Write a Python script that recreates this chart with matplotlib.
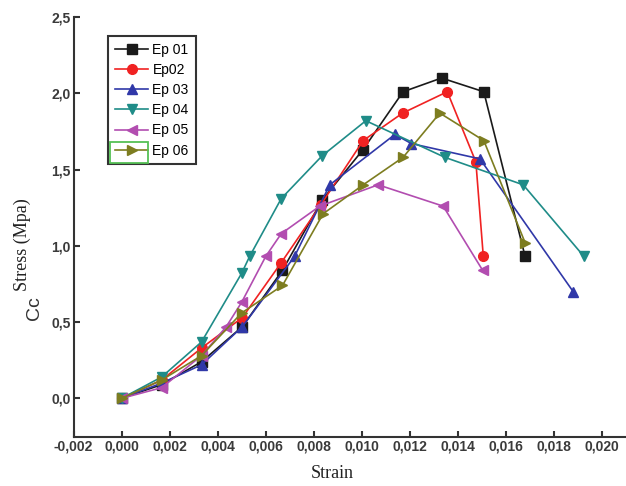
import matplotlib
matplotlib.use("Agg")
from matplotlib import pyplot as plt
from matplotlib.ticker import FuncFormatter
from matplotlib.patches import Rectangle

# Strain / stress readings for each specimen
ep01_x = [0, 0.00167, 0.00333, 0.00503, 0.0067, 0.00835, 0.01005, 0.01172, 0.01332, 0.01508, 0.0168]
ep01_y = [0, 0.09, 0.24, 0.47, 0.84, 1.30, 1.63, 2.01, 2.10, 2.01, 0.93]

ep02_x = [0, 0.00167, 0.00333, 0.00503, 0.00665, 0.0083, 0.01006, 0.0117, 0.01356, 0.01475, 0.01506]
ep02_y = [0, 0.12, 0.33, 0.53, 0.89, 1.27, 1.69, 1.87, 2.01, 1.55, 0.93]

ep03_x = [0, 0.00167, 0.00333, 0.00503, 0.0072, 0.00867, 0.01138, 0.01207, 0.01492, 0.0188]
ep03_y = [0, 0.10, 0.22, 0.47, 0.93, 1.40, 1.73, 1.67, 1.57, 0.70]

ep04_x = [0, 0.00167, 0.00333, 0.005, 0.00533, 0.00665, 0.00835, 0.01017, 0.01346, 0.01672, 0.01925]
ep04_y = [0, 0.14, 0.37, 0.82, 0.93, 1.31, 1.59, 1.82, 1.58, 1.40, 0.93]

ep05_x = [0, 0.00167, 0.00333, 0.00436, 0.005, 0.006, 0.00665, 0.00825, 0.01068, 0.01339, 0.01503]
ep05_y = [0, 0.07, 0.28, 0.47, 0.63, 0.93, 1.08, 1.26, 1.40, 1.26, 0.84]

ep06_x = [0, 0.00167, 0.00333, 0.005, 0.0067, 0.00839, 0.01006, 0.01172, 0.01325, 0.01508, 0.0168]
ep06_y = [0, 0.12, 0.28, 0.56, 0.74, 1.21, 1.40, 1.58, 1.87, 1.69, 1.02]

labels = ["Ep 01", "Ep02", "Ep 03", "Ep 04", "Ep 05", "Ep 06"]
x_ticks = [-0.002, 0.0, 0.002, 0.004, 0.006, 0.008, 0.010, 0.012, 0.014, 0.016, 0.018, 0.020]
y_ticks = [0.0, 0.5, 1.0, 1.5, 2.0, 2.5]

series = [
    (ep01_x, ep01_y, "#1a1a1a", "s"),
    (ep02_x, ep02_y, "#f02222", "o"),
    (ep03_x, ep03_y, "#3038a8", "^"),
    (ep04_x, ep04_y, "#1f8c88", "v"),
    (ep05_x, ep05_y, "#b24db0", "<"),
    (ep06_x, ep06_y, "#7d7d20", ">"),
]

W, H = 626, 486
fig = plt.figure(figsize=(W / 100, H / 100), dpi=100)
# axes box in pixels: left spine 73.5, bottom 436.5, y=2.5 at 17
ax = fig.add_axes([73.5 / W, 1 - 436.5 / H, (W - 73.5) / W, (436.5 - 17) / H])

for (xs, ys, col, mk), lab in zip(series, labels):
    ax.plot(xs, ys, color=col, marker=mk, markersize=7, lw=1.2, label=lab,
            markeredgecolor=col, markerfacecolor=col, clip_on=False)

ax.set_xlim(-0.002, 0.021)
ax.set_ylim(-0.25, 2.5)
ax.set_xticks(x_ticks)
ax.set_yticks(y_ticks)
ax.xaxis.set_major_formatter(FuncFormatter(lambda v, p: ("%.3f" % v).replace(".", ",")))
ax.yaxis.set_major_formatter(FuncFormatter(lambda v, p: ("%.1f" % v).replace(".", ",")))

for s in ["top", "right"]:
    ax.spines[s].set_visible(False)
for s in ["left", "bottom"]:
    ax.spines[s].set_color("#333333")
    ax.spines[s].set_linewidth(1.5)

ax.tick_params(axis="x", direction="in", length=4, width=1.5, color="#333333", pad=2.5)
ax.tick_params(axis="y", direction="in", length=4, width=1.5, color="#333333", pad=2)
for t in ax.get_xticklabels() + ax.get_yticklabels():
    t.set_family("Liberation Sans")
    t.set_fontweight("bold")
    t.set_fontsize(10)
    t.set_color("#3a3a3a")

fig.text(332 / W, 1 - 473 / H, "Strain", family="Liberation Serif", fontsize=13,
         ha="center", va="center", color="#222222")
fig.text(22 / W, 1 - 245 / H, "Stress (Mpa)", family="Liberation Serif", fontsize=13,
         rotation=90, ha="center", va="center", color="#222222")
fig.text(35 / W, 1 - 308 / H, "Cc", family="Liberation Sans", fontsize=14,
         rotation=90, ha="center", va="center", color="#333333")

leg = ax.legend(loc="upper left", bbox_to_anchor=(108 / W, 1 - 36 / H),
                bbox_transform=fig.transFigure, borderaxespad=0, fancybox=False,
                framealpha=1, edgecolor="#333333", handlelength=2.4,
                handletextpad=0.3, labelspacing=0.44, borderpad=0.5,
                prop={"family": "Liberation Sans", "size": 10})
leg.get_frame().set_linewidth(1.5)

# green box around the last legend handle, as in the source picture
fig.patches.append(Rectangle((110 / W, 1 - 163 / H), 38 / W, 21 / H, fill=False,
                             edgecolor="#55c055", lw=1.3, transform=fig.transFigure))

fig.savefig("out.png", dpi=100)
